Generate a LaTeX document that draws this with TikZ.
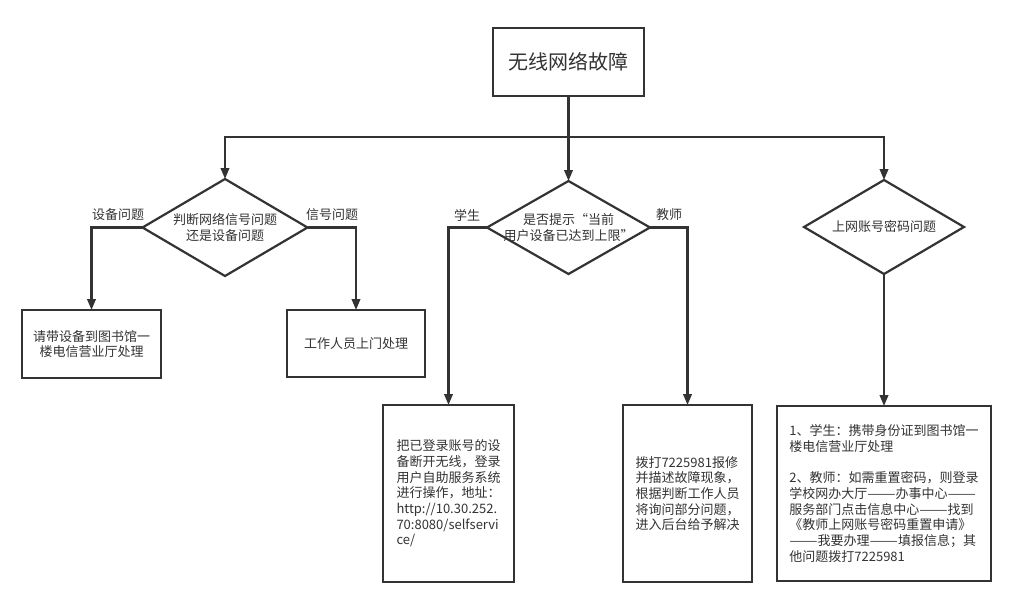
\documentclass[tikz,border=0pt]{standalone}
\usepackage{fontspec}
\usepackage{graphicx}
\setmainfont{Noto Sans CJK SC}
\usetikzlibrary{shapes.geometric,arrows.meta}
\definecolor{ln}{HTML}{333333}
\definecolor{tx}{HTML}{333333}
\newcommand{\dd}{\scalebox{1.3}[1]{——}}
\tikzset{
 box/.style={draw=ln, line width=2.2pt, rectangle, inner sep=0pt, outer sep=0pt, text=tx, font=\fontsize{13}{15.7}\selectfont},
 dia/.style={draw=ln, line width=2.2pt, diamond, inner sep=0pt, outer sep=0pt},
 txt/.style={text=tx, font=\fontsize{13}{15.7}\selectfont, inner sep=0pt},
 arr/.style={draw=ln, line width=2.2pt, -{Triangle[length=11pt,width=8.5pt]}},
}
\begin{document}
\begin{tikzpicture}[x=1pt,y=-1pt]
\path[fill=white] (0,0) rectangle (1027,615);
\useasboundingbox (0,0) rectangle (1027,615);
\node[box, minimum width=151pt, minimum height=68pt, font=\fontsize{20}{24}\selectfont] (top) at (568.5,62) {无线网络故障};
\coordinate (split) at (568.5,137);
\node[dia, minimum width=165pt, minimum height=97pt, label={[name=d1t, txt, align=center]center:{判断网络信号问题\\还是设备问题}}] (d1) at (225,227.5) {};
\node[dia, minimum width=163pt, minimum height=93pt, label={[name=d2t, txt, align=center]center:{是否提示“当前\\用户设备已达到上限”}}] (d2) at (568.5,227.5) {};
\node[dia, minimum width=160pt, minimum height=94pt, label={[name=d3t, txt, align=center]center:{上网账号密码问题}}] (d3) at (884,227) {};
\node[box, minimum width=139pt, minimum height=68pt, align=center] (b1) at (91.5,344) {请带设备到图书馆一\\楼电信营业厅处理};
\node[box, minimum width=138pt, minimum height=67pt] (b2) at (356,343.5) {工作人员上门处理};
\node[box, minimum width=131pt, minimum height=177pt, align=left] (b3) at (448.5,493.5) {把已登录账号的设\\备断开无线，登录\\用户自助服务系统\\进行操作，地址：\\http://10.30.252.\\70:8080/selfservi\\ce/};
\node[box, minimum width=129pt, minimum height=177pt, align=left] (b4) at (687.5,493.5) {拨打7225981报修\\并描述故障现象，\\根据判断工作人员\\将询问部分问题，\\进入后台给予解决};
\node[box, minimum width=214pt, minimum height=175pt, align=left] (b5) at (884,493.5) {1、学生：携带身份证到图书馆一\\楼电信营业厅处理\\\mbox{}\\2、教师：如需重置密码，则登录\\学校网办大厅\dd 办事中心\dd\\服务部门点击信息中心\dd 找到\\《教师上网账号密码重置申请》\\\dd 我要办理\dd 填报信息；其\\他问题拨打7225981};
\draw[arr] (top.south) -- (split) -| (d1.north);
\draw[arr] (top.south) -- (d2.north);
\draw[arr] (top.south) -- (split) -| (d3.north);
\draw[arr] (d1.west) -| (b1.north);
\draw[arr] (d1.east) -| (b2.north);
\draw[arr] (d2.west) -| (b3.north);
\draw[arr] (d2.east) -| (b4.north);
\draw[arr] (d3.south) -- (b5.north);
\node[txt] (l1) at (118,215) {设备问题};
\node[txt] (l2) at (332,215) {信号问题};
\node[txt] (l3) at (467,215) {学生};
\node[txt] (l4) at (669,215) {教师};
\end{tikzpicture}
\end{document}
